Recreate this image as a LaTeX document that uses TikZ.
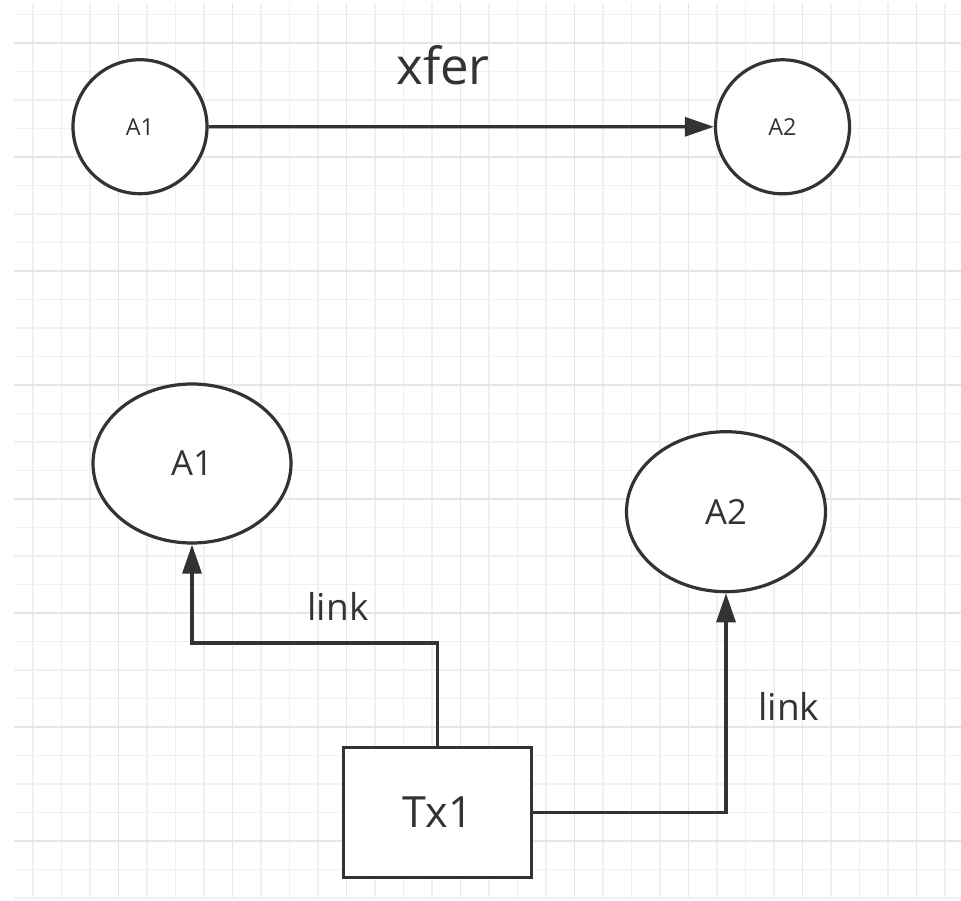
\documentclass[tikz,border=0pt]{standalone}
\usepackage{fontspec}
\setmainfont{Open Sans}
\usetikzlibrary{arrows.meta,shapes.geometric}
\definecolor{ink}{HTML}{333333}
\definecolor{gridminor}{HTML}{F0F0F0}
\definecolor{gridmajor}{HTML}{E6E6E6}
\tikzset{
  minorline/.style={draw=gridminor,line width=1.5pt},
  majorline/.style={draw=gridmajor,line width=1.5pt},
  shapeline/.style={draw=ink,line width=3.2pt,fill=white,text=ink,inner sep=0pt},
  smallcirc/.style={shapeline,circle,minimum size=134pt,font=\fontsize{23.4}{28}\selectfont},
  bigoval/.style={shapeline,ellipse,font=\fontsize{34.6}{40}\selectfont},
  txbox/.style={shapeline,rectangle,minimum width=188pt,minimum height=130pt,font=\fontsize{43}{50}\selectfont},
  conn/.style={draw=ink,line width=3.2pt,-{Triangle[length=29pt,width=19pt]}},
  edgetext/.style={text=ink,inner sep=0pt,anchor=base}
}
\begin{document}
\begin{tikzpicture}[x=1pt,y=-1pt]
  % canvas
  \fill[white] (0,0) rectangle (961,901);
  \useasboundingbox (0,0) rectangle (961,901);
  % background grid
  \foreach \i in {0,...,32} \draw[minorline] ({33+28.5*\i},3) -- ({33+28.5*\i},898);
  \foreach \i in {0,...,31} \draw[minorline] (14,{14.5+28.5*\i}) -- (961,{14.5+28.5*\i});
  \foreach \i in {0,...,7} \draw[majorline] ({118.5+114*\i},3) -- ({118.5+114*\i},898);
  \foreach \i in {0,...,7} \draw[majorline] (14,{43+114*\i}) -- (961,{43+114*\i});

  % upper row: transfer between accounts
  \node[smallcirc] (ua1) at (140,126.7) {A1};
  \node[smallcirc] (ua2) at (782.5,126.8) {A2};
  \draw[conn] (ua1.east) -- (ua2.west);
  \node[edgetext,font=\fontsize{51}{60}\selectfont] (xfer) at (443,85) {xfer};

  % lower part: transaction linked to both accounts
  \node[bigoval,minimum width=198pt,minimum height=159pt] (la1) at (192,463.5) {A1};
  \node[bigoval,minimum width=199pt,minimum height=160pt] (la2) at (726,511.7) {A2};
  \node[txbox] (tx) at (437.8,812.3) {Tx1};

  \coordinate (bend1) at (437.8,643);
  \draw[conn] (tx.north) -- (bend1) -| (la1.south);
  \draw[conn] (tx.east) -| (la2.south);

  \node[edgetext,font=\fontsize{37}{44}\selectfont] (link1) at (338,620.7) {link};
  \node[edgetext,font=\fontsize{37}{44}\selectfont] (link2) at (788.8,720.7) {link};
\end{tikzpicture}
\end{document}
